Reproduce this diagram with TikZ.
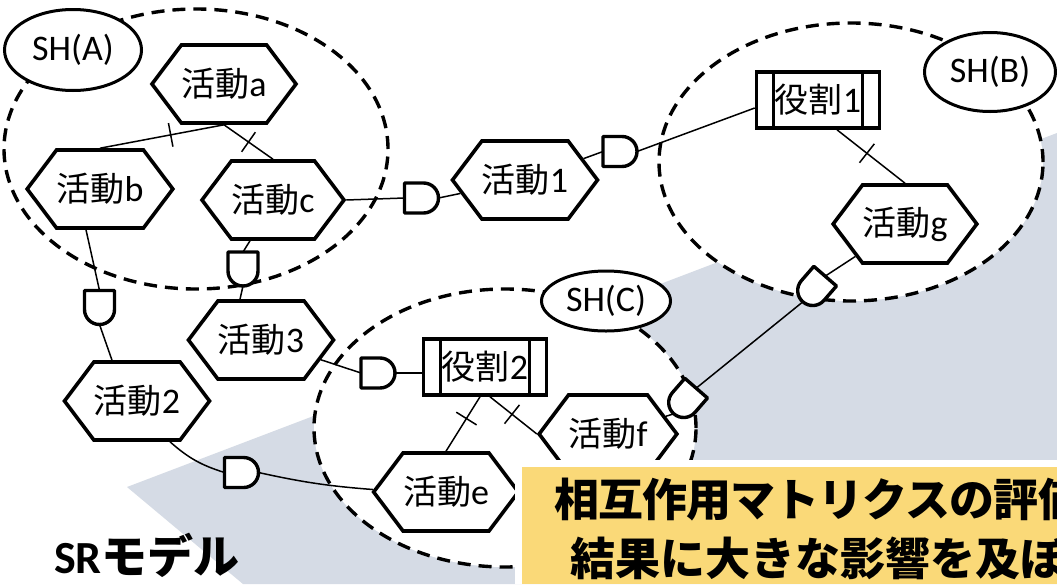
\documentclass[tikz,border=0pt]{standalone}
\usepackage{fontspec}
\setmainfont{Carlito}
\newfontfamily\cjk{Noto Sans CJK JP}
\usetikzlibrary{shapes.symbols,shapes.geometric,decorations.markings}
\pgfdeclarelayer{back}
\pgfdeclarelayer{mid}
\pgfsetlayers{back,mid,main}
\definecolor{bgrey}{RGB}{213,219,229}
\definecolor{ybox}{RGB}{250,217,120}
\newcommand\lab[2]{{\fontsize{34}{40}\selectfont\cjk #1}{\fontsize{36}{40}\selectfont #2}}
\begin{document}
\begin{tikzpicture}[x=1pt,y=-1pt,
  hexnode/.style={shape=signal, signal to=east and west, signal pointer angle=106,
    draw, fill=white, line width=3.6pt, minimum width=86pt, minimum height=78pt, inner sep=0pt},
  rolebox/.style={draw, fill=white, line width=3.6pt, minimum width=123pt, minimum height=56pt, inner sep=0pt,
    path picture={
      \draw[line width=3.4pt] ([xshift=17pt]path picture bounding box.north west) -- ([xshift=17pt]path picture bounding box.south west);
      \draw[line width=3.4pt] ([xshift=-17pt]path picture bounding box.north east) -- ([xshift=-17pt]path picture bounding box.south east);}},
  shell/.style={draw, fill=white, line width=3pt, shape=ellipse, inner sep=0pt},
  zone/.style={draw, fill=white, line width=3.4pt, dash pattern=on 13pt off 8pt},
  conn/.style={line width=1.5pt},
  tickmark/.style={postaction={decorate,decoration={markings,mark=at position #1 with {\draw[line width=1.5pt] (0pt,-12pt) -- (0pt,12pt);}}}},
  gateline/.style={draw, fill=white, line width=3.4pt, line join=round},
  pics/dgate/.style={code={
    \draw[gateline] (-17,-15) -- (2,-15) .. controls (10.3,-15) and (17,-8.3) .. (17,0)
      .. controls (17,8.3) and (10.3,15) .. (2,15) -- (-17,15) -- cycle;
    \coordinate (-in) at (-17,0);
    \coordinate (-out) at (17,0);
  }}
]
\useasboundingbox (0,0) rectangle (1057,584);

\begin{pgfonlayer}{back}
\fill[white] (0,0) rectangle (1057,584);
\fill[bgrey] (127,487) -- (1057,133) -- (1057,584) -- (243,584) -- cycle;
\draw[zone] (196,149) ellipse [x radius=192pt, y radius=140pt];
\draw[zone] (851,162) ellipse [x radius=192pt, y radius=139pt];
\draw[zone] (505,428) ellipse [x radius=191pt, y radius=139pt];
\end{pgfonlayer}

% activity nodes
\node[hexnode] (a) at (224,84) {\lab{活動}{a}};
\node[hexnode] (b) at (100,189) {\lab{活動}{b}};
\node[hexnode] (c) at (273,200) {\lab{活動}{c}};
\node[hexnode] (act1) at (525,180) {\lab{活動}{1}};
\node[hexnode] (actg) at (905,224) {\lab{活動}{g}};
\node[hexnode] (act2) at (137,401) {\lab{活動}{2}};
\node[hexnode] (act3) at (261,340) {\lab{活動}{3}};
\node[hexnode] (acte) at (446,492) {\lab{活動}{e}};
\node[hexnode] (actf) at (608,434) {\lab{活動}{f}};
% role nodes
\node[rolebox] (r1) at (818,100) {\lab{役割}{1}};
\node[rolebox] (r2) at (485,367) {\lab{役割}{2}};

% gates
\pic (g1) at (421.5,198) {dgate};
\pic (g2) at (620,151.5) {dgate};
\pic[rotate=-90] (g3) at (243,269) {dgate};
\pic[rotate=-90] (g4) at (99.5,307.5) {dgate};
\pic (g5) at (241.5,472.5) {dgate};
\pic (g6) at (378,373) {dgate};
\pic[rotate=229] (g7) at (814,289) {dgate};
\pic[rotate=229] (g8) at (685,401) {dgate};

% stakeholder labels
\node[shell, minimum width=137pt, minimum height=81pt] (sha) at (73,50) {\fontsize{36}{40}\selectfont SH(A)};
\node[shell, minimum width=131pt, minimum height=79pt] (shb) at (990,72) {\fontsize{36}{40}\selectfont SH(B)};
\node[shell, minimum width=129pt, minimum height=60pt] (shc) at (606,301) {\fontsize{36}{40}\selectfont SH(C)};

\begin{pgfonlayer}{mid}
\draw[conn, tickmark=0.43] (a.south) -- (b.north);
\draw[conn, tickmark=0.5] (a.south) -- (c.north);
\draw[conn] ([xshift=-14pt]b.south) -- (g4-in);
\draw[conn] (g4-out) -- ([xshift=-25pt]act2.north);
\draw[conn] ([xshift=-23pt]c.south) -- (g3-in);
\draw[conn] (g3-out) -- ([xshift=-21pt]act3.north);
\draw[conn] (c.east) -- (g1-in);
\draw[conn] (g1-out) -- (act1);
\draw[conn] (act1) -- (g2-in);
\draw[conn] (g2-out) -- ([yshift=-8pt]r1.west);
\draw[conn, tickmark=0.44] ([xshift=19pt]r1.south) -- (actg.north);
\draw[conn] (actg) -- (g7-in);
\draw[conn] (g7-out) -- (g8-in);
\draw[conn] (g8-out) -- (actf);
\draw[conn] (act3) -- (g6-in);
\draw[conn] (g6-out) -- (g6-out -| r2.west);
\draw[conn, tickmark=0.4] ([xshift=-5pt]r2.south) -- (acte.north);
\draw[conn, tickmark=0.47] ([xshift=5pt]r2.south) -- (actf.west);
\draw[conn] ([xshift=33pt]act2.south) to[bend right=12] (g5-in);
\draw[conn] (g5-out) to[bend right=4] (acte);
\end{pgfonlayer}

% highlighted note
\fill[white] (515,460) rectangle (1057,584);
\fill[ybox] (522,467) rectangle (1057,584);
\node[anchor=base west, inner sep=0pt] (y1) at (554,516) {\fontsize{45}{50}\selectfont\cjk\bfseries\addfontfeature{LetterSpace=-2}相互作用マトリクスの評価};
\node[anchor=base west, inner sep=0pt] (y2) at (570,575) {\fontsize{45}{50}\selectfont\cjk\bfseries 結果に大きな影響を及ぼ};

\node[anchor=base west, inner sep=0pt] (sr) at (54,573) {\fontsize{46}{50}\selectfont\bfseries SR{\cjk モデル}};
\end{tikzpicture}
\end{document}
